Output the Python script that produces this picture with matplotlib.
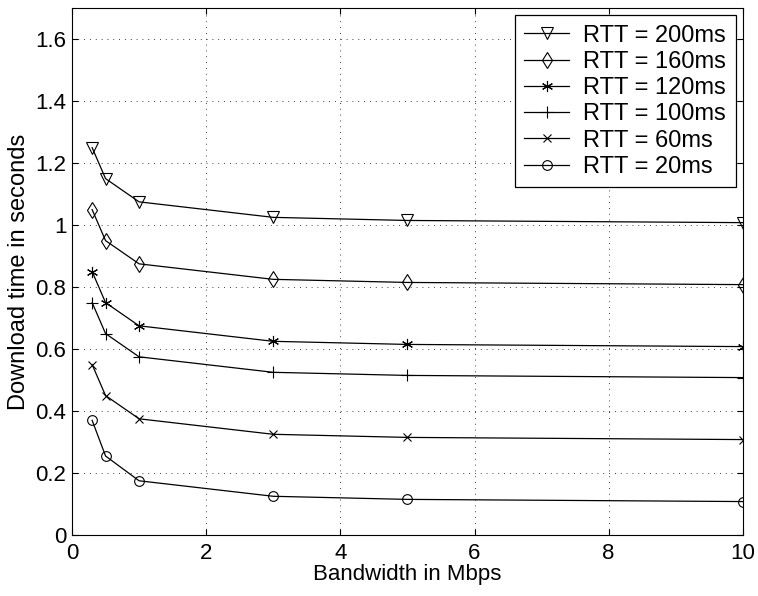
import matplotlib
matplotlib.use("Agg")
import matplotlib.pyplot as plt

plt.rcParams['font.family'] = ['Liberation Sans', 'DejaVu Sans']

bandwidth = [0.3, 0.5, 1, 3, 5, 10]
rtt_200 = [1.25, 1.15, 1.075, 1.025, 1.015, 1.008]
rtt_160 = [1.05, 0.95, 0.875, 0.825, 0.815, 0.808]
rtt_120 = [0.85, 0.75, 0.675, 0.625, 0.615, 0.608]
rtt_100 = [0.75, 0.65, 0.575, 0.525, 0.515, 0.508]
rtt_60 = [0.55, 0.45, 0.375, 0.325, 0.315, 0.308]
rtt_20 = [0.37, 0.255, 0.175, 0.125, 0.115, 0.108]
labels = ['RTT = 200ms', 'RTT = 160ms', 'RTT = 120ms',
          'RTT = 100ms', 'RTT = 60ms', 'RTT = 20ms']

fig = plt.figure(figsize=(7.58, 5.96), dpi=100)
ax = fig.add_axes([0.095, 0.1023, 0.885, 0.884])

series = [rtt_200, rtt_160, rtt_120, rtt_100, rtt_60, rtt_20]
markers = ['v', 'd', (6, 2, 0), '+', 'x', 'o']
sizes = [8, 8, 8, 8, 6, 7]
for ys, m, s, lab in zip(series, markers, sizes, labels):
    ax.plot(bandwidth, ys, color='black', linewidth=0.9, marker=m,
            markersize=s, markerfacecolor='none', markeredgecolor='black',
            markeredgewidth=0.8, label=lab)

ax.set_xlim(0, 10)
ax.set_ylim(0, 1.7)
ax.set_xticks([0, 2, 4, 6, 8, 10])
ax.set_yticks([0, 0.2, 0.4, 0.6, 0.8, 1, 1.2, 1.4, 1.6])
ax.set_yticklabels(['0', '0.2', '0.4', '0.6', '0.8', '1', '1.2', '1.4', '1.6'])
ax.grid(True, linestyle=(0, (1, 6)), color='black', linewidth=0.6)
ax.tick_params(direction='in', labelsize=16, length=4, top=True, right=True)
ax.tick_params(axis='x', pad=6)
ax.tick_params(axis='y', pad=4)
for sp in ax.spines.values():
    sp.set_linewidth(0.8)

ax.set_xlabel('Bandwidth in Mbps', fontsize=16, labelpad=0)
ax.set_ylabel('Download time in seconds', fontsize=17, labelpad=4)

leg = ax.legend(loc='upper right', fontsize=17, fancybox=False, framealpha=1,
                edgecolor='black', handlelength=1.9, borderaxespad=0.3,
                labelspacing=0.18, handletextpad=0.6, borderpad=0.4)
leg.get_frame().set_linewidth(0.9)

fig.savefig('out.png', dpi=100)
